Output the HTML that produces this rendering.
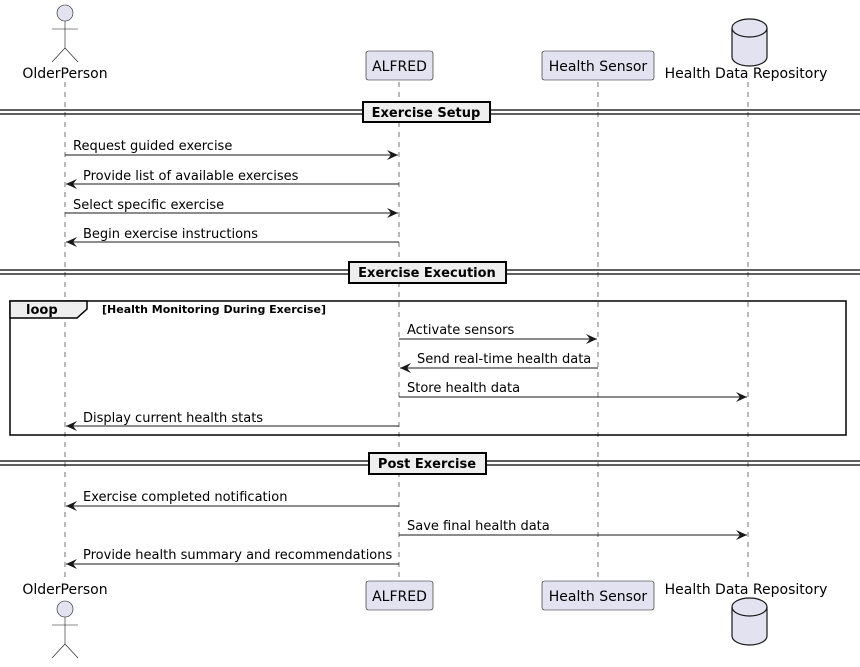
<!DOCTYPE html>
<html><head><meta charset="utf-8"><style>
html,body{margin:0;padding:0;background:#fff}
svg text{font-family:"DejaVu Sans","Liberation Sans",sans-serif}
</style></head><body>
<svg width="860" height="662" viewBox="0 0 860 662" xmlns="http://www.w3.org/2000/svg">
<defs>
<marker id="a" markerWidth="12" markerHeight="10" refX="11" refY="5" orient="auto" markerUnits="userSpaceOnUse">
<path d="M0,0 L11,5 L0,10 L4,5 Z" fill="#181818"/>
</marker>
</defs>
<g stroke="#181818" stroke-width="0.6" stroke-dasharray="5,5">
<line x1="65" y1="82" x2="65" y2="582"/>
<line x1="399" y1="82" x2="399" y2="582"/>
<line x1="598" y1="82" x2="598" y2="582"/>
<line x1="748" y1="82" x2="748" y2="582"/>
</g>
<!-- top participants -->
<g stroke="#181818" stroke-width="0.6" fill="#E2E2F0">
<circle cx="65" cy="13" r="8"/>
<line x1="65" y1="21" x2="65" y2="48"/><line x1="52" y1="29" x2="78" y2="29"/>
<line x1="65" y1="48" x2="52" y2="62"/><line x1="65" y1="48" x2="78" y2="62"/>
<rect x="366" y="51" width="67" height="29" rx="2.5"/>
<rect x="542" y="51" width="112" height="29" rx="2.5"/>
</g>
<path d="M732,28 A17.5,9 0 0 1 767,28 L767,57 A17.5,9 0 0 1 732,57 Z" fill="#E2E2F0" stroke="#181818" stroke-width="1.2"/>
<path d="M732,28 A17.5,9 0 0 0 767,28" fill="none" stroke="#181818" stroke-width="1.2"/>
<g font-size="14" fill="#000">
<text x="65" y="78" text-anchor="middle">OlderPerson</text>
<text x="399.5" y="71" text-anchor="middle">ALFRED</text>
<text x="598" y="71" text-anchor="middle">Health Sensor</text>
<text x="746" y="78" text-anchor="middle">Health Data Repository</text>
</g>
<!-- bottom participants -->
<g stroke="#181818" stroke-width="0.6" fill="#E2E2F0">
<circle cx="65" cy="609" r="8"/>
<line x1="65" y1="617" x2="65" y2="644"/><line x1="52" y1="625" x2="78" y2="625"/>
<line x1="65" y1="644" x2="52" y2="658"/><line x1="65" y1="644" x2="78" y2="658"/>
<rect x="366" y="581" width="67" height="29" rx="2.5"/>
<rect x="542" y="581" width="112" height="29" rx="2.5"/>
</g>
<path d="M732,607 A17.5,9 0 0 1 767,607 L767,636 A17.5,9 0 0 1 732,636 Z" fill="#E2E2F0" stroke="#181818" stroke-width="1.2"/>
<path d="M732,607 A17.5,9 0 0 0 767,607" fill="none" stroke="#181818" stroke-width="1.2"/>
<g font-size="14" fill="#000">
<text x="65" y="594" text-anchor="middle">OlderPerson</text>
<text x="399.5" y="601" text-anchor="middle">ALFRED</text>
<text x="598" y="601" text-anchor="middle">Health Sensor</text>
<text x="746" y="594" text-anchor="middle">Health Data Repository</text>
</g>
<!-- dividers -->
<g stroke="#000" stroke-width="1.2">
<line x1="0" y1="110" x2="860" y2="110"/><line x1="0" y1="114" x2="860" y2="114"/>
<line x1="0" y1="270" x2="860" y2="270"/><line x1="0" y1="274" x2="860" y2="274"/>
<line x1="0" y1="461" x2="860" y2="461"/><line x1="0" y1="465" x2="860" y2="465"/>
</g>
<g fill="#EEEEEE" stroke="#000" stroke-width="2">
<rect x="363" y="102" width="127" height="20"/>
<rect x="349" y="262" width="157" height="21"/>
<rect x="369" y="453" width="117" height="21"/>
</g>
<g font-size="13" font-weight="bold" fill="#000" text-anchor="middle">
<text x="426" y="117">Exercise Setup</text>
<text x="427" y="277">Exercise Execution</text>
<text x="427" y="468">Post Exercise</text>
</g>
<!-- loop -->
<rect x="10" y="301" width="836" height="134" fill="none" stroke="#000" stroke-width="1.5"/>
<path d="M10,301 L87,301 L87,309 L77,318 L10,318 Z" fill="#EEEEEE" stroke="#000" stroke-width="1.5"/>
<text x="26" y="314" font-size="13" font-weight="bold">loop</text>
<text x="102" y="313" font-size="11" font-weight="bold">[Health Monitoring During Exercise]</text>
<!-- messages -->
<g stroke="#181818" stroke-width="1" marker-end="url(#a)">
<line x1="65" y1="155" x2="398" y2="155"/>
<line x1="399" y1="184" x2="66" y2="184"/>
<line x1="65" y1="213" x2="398" y2="213"/>
<line x1="399" y1="242" x2="66" y2="242"/>
<line x1="399" y1="339" x2="597" y2="339"/>
<line x1="598" y1="368" x2="400" y2="368"/>
<line x1="399" y1="397" x2="747" y2="397"/>
<line x1="399" y1="426" x2="66" y2="426"/>
<line x1="399" y1="506" x2="66" y2="506"/>
<line x1="399" y1="535" x2="747" y2="535"/>
<line x1="399" y1="564" x2="66" y2="564"/>
</g>
<g font-size="13" fill="#000">
<text x="73" y="150">Request guided exercise</text>
<text x="83" y="180">Provide list of available exercises</text>
<text x="73" y="209">Select specific exercise</text>
<text x="83" y="238">Begin exercise instructions</text>
<text x="407" y="334">Activate sensors</text>
<text x="417" y="363">Send real-time health data</text>
<text x="407" y="392">Store health data</text>
<text x="83" y="422">Display current health stats</text>
<text x="83" y="501">Exercise completed notification</text>
<text x="407" y="530">Save final health data</text>
<text x="83" y="559">Provide health summary and recommendations</text>
</g>
</svg>
</body></html>
